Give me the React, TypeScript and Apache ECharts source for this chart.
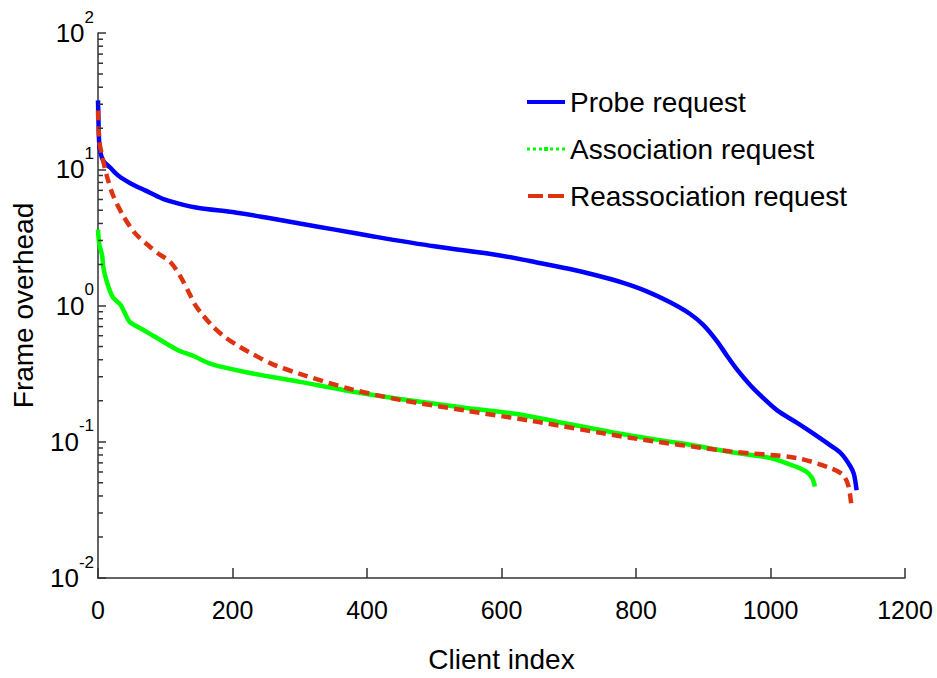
import React, { useEffect, useRef } from "react";
import * as echarts from "echarts";

const probeX = [0, 1, 2, 4, 8, 18, 30, 50, 70, 95, 120, 150, 200, 250, 300, 350, 412, 500, 598, 642, 700, 742, 780, 816, 850, 880, 900, 920, 935, 950, 970, 989, 1010, 1039, 1060, 1089, 1105, 1118, 1124, 1128];
const probeY = [32, 20, 15, 13, 11.5, 10.3, 9, 7.8, 7, 6.1, 5.6, 5.2, 4.85, 4.42, 4.0, 3.62, 3.2, 2.72, 2.33, 2.12, 1.86, 1.66, 1.47, 1.27, 1.06, 0.87, 0.72, 0.55, 0.43, 0.34, 0.26, 0.21, 0.17, 0.138, 0.118, 0.094, 0.082, 0.067, 0.058, 0.044];

const assocX = [0, 2, 6, 8, 13, 22, 33, 40, 47, 70, 82, 119, 140, 170, 226, 300, 375, 449, 548, 623, 700, 791, 870, 940, 1000, 1019, 1040, 1054, 1062, 1066];
const assocY = [3.6, 2.8, 2.35, 1.9, 1.5, 1.15, 1.02, 0.88, 0.76, 0.65, 0.6, 0.47, 0.43, 0.37, 0.32, 0.275, 0.235, 0.206, 0.177, 0.16, 0.135, 0.111, 0.097, 0.084, 0.076, 0.071, 0.065, 0.06, 0.054, 0.047];

const reassocX = [0, 2, 6, 13, 22, 37, 55, 77, 90, 107, 122, 135, 144, 155, 171, 190, 210, 230, 260, 300, 375, 449, 548, 642, 791, 940, 1039, 1089, 1108, 1116, 1120];
const reassocY = [27, 16, 12.6, 9, 6.5, 4.6, 3.4, 2.7, 2.4, 2.1, 1.65, 1.25, 1.02, 0.86, 0.7, 0.58, 0.5, 0.44, 0.37, 0.315, 0.244, 0.203, 0.169, 0.143, 0.107, 0.085, 0.076, 0.064, 0.057, 0.047, 0.035];

const seriesNames = ["Probe request", "Association request", "Reassociation request"];
const xTicks = { min: 0, max: 1200, interval: 200 };
const yRange = { min: 0.01, max: 100 };
const minorTickValues = [
  0.02, 0.03, 0.04, 0.05, 0.06, 0.07, 0.08, 0.09,
  0.2, 0.3, 0.4, 0.5, 0.6, 0.7, 0.8, 0.9,
  2, 3, 4, 5, 6, 7, 8, 9,
  20, 30, 40, 50, 60, 70, 80, 90,
];

const zip = (xs: number[], ys: number[]) => xs.map((x, i) => [x, ys[i]]);

const FONT = "'Liberation Sans', Arial, Helvetica, sans-serif";

const ICON_SOLID = "path://M0,0h38v4h-38z";
const ICON_DASHED = "path://M2,0h15v4h-15zM22,0h16v4h-16z";
const ICON_DOTTED =
  "path://M0,0.5h3v3h-3zM6,0.5h3v3h-3zM12,0.5h3v3h-3zM17,0h4v4h-4zM23,0.5h3v3h-3zM29,0.5h3v3h-3zM35,0.5h3v3h-3z";

export default function App() {
  const ref = useRef<HTMLDivElement>(null);
  useEffect(() => {
    if (!ref.current) return;
    const chart = echarts.init(ref.current, null, { renderer: "svg" });
    const axisColor = "#333";
    chart.setOption({
      animation: false,
      backgroundColor: "#fff",
      textStyle: { fontFamily: FONT },
      grid: { left: 98, right: 32, top: 33, bottom: 94, containLabel: false },
      legend: {
        orient: "vertical",
        left: 527,
        top: 88,
        padding: 0,
        itemWidth: 38,
        itemHeight: 4,
        itemGap: 19,
        textStyle: { fontSize: 28, color: "#000", fontFamily: FONT },
        data: [
          { name: seriesNames[0], icon: ICON_SOLID },
          { name: seriesNames[1], icon: ICON_DOTTED },
          { name: seriesNames[2], icon: ICON_DASHED },
        ],
      },
      xAxis: {
        type: "value",
        min: xTicks.min,
        max: xTicks.max,
        interval: xTicks.interval,
        name: "Client index",
        nameLocation: "middle",
        nameGap: 67,
        nameTextStyle: { fontSize: 28, color: "#000", fontFamily: FONT },
        axisLine: { show: true, lineStyle: { color: axisColor, width: 1.5 } },
        axisTick: { show: true, inside: true, length: 10, lineStyle: { color: axisColor, width: 1.5 } },
        axisLabel: {
          fontSize: 25,
          color: "#000",
          margin: 19,
          fontFamily: FONT,
          formatter: (v: number) => String(v),
        },
        splitLine: { show: false },
      },
      yAxis: {
        type: "log",
        logBase: 10,
        min: yRange.min,
        max: yRange.max,
        name: "Frame overhead",
        nameLocation: "middle",
        nameGap: 61,
        nameRotate: 90,
        nameTextStyle: { fontSize: 28, color: "#000", fontFamily: FONT },
        axisLine: { show: true, lineStyle: { color: axisColor, width: 1.5 } },
        axisTick: { show: true, inside: true, length: 8, lineStyle: { color: axisColor, width: 1.5 } },
        minorTick: { show: false },
        splitLine: { show: false },
        axisLabel: {
          margin: 4,
          formatter: (v: number) => "{b|10}{s|" + Math.round(Math.log10(v)) + "}",
          rich: {
            b: { fontSize: 26, lineHeight: 49, color: "#000", fontFamily: FONT, verticalAlign: "middle" },
            s: { fontSize: 17, lineHeight: 17, color: "#000", fontFamily: FONT, verticalAlign: "top" },
          },
        },
      },
      series: [
        {
          name: seriesNames[0],
          type: "line",
          data: zip(probeX, probeY),
          smooth: 0.3,
          symbol: "none",
          color: "#0000ff",
          lineStyle: { color: "#0000ff", width: 4.5 },
          z: 3,
        },
        {
          name: seriesNames[1],
          type: "line",
          data: zip(assocX, assocY),
          smooth: 0.3,
          symbol: "none",
          color: "#00ff00",
          lineStyle: { color: "#00ff00", width: 4.5 },
          z: 2,
        },
        {
          name: seriesNames[2],
          type: "line",
          data: zip(reassocX, reassocY),
          smooth: 0.3,
          symbol: "none",
          color: "#dd3311",
          lineStyle: { color: "#dd3311", width: 4.5, type: [10, 6] },
          z: 4,
        },
        {
          type: "custom",
          name: "minorTicks",
          data: minorTickValues.map((v) => [0, v]),
          silent: true,
          z: 5,
          renderItem: (params: any, api: any) => {
            const p = api.coord([0, api.value(1)]);
            return {
              type: "line",
              shape: { x1: p[0], y1: p[1], x2: p[0] + 5, y2: p[1] },
              style: { stroke: axisColor, lineWidth: 1.5 },
            };
          },
        },
      ],
    });
    return () => chart.dispose();
  }, []);
  return (
    <div
      ref={ref}
      style={{ position: "fixed", left: 0, top: 0, width: 937, height: 678, background: "#fff" }}
    />
  );
}
